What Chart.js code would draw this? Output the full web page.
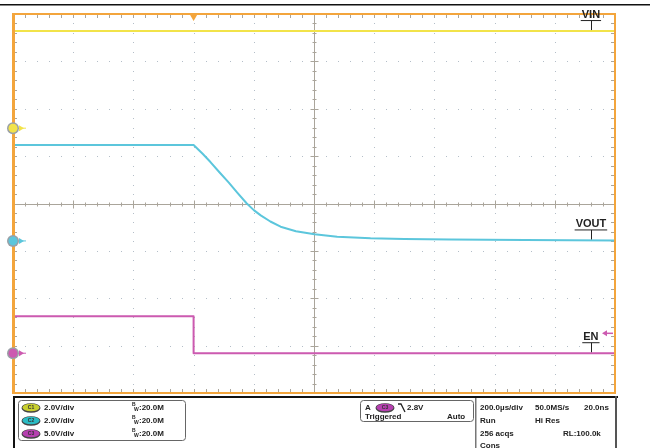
<!DOCTYPE html>
<html>
<head>
<meta charset="utf-8">
<script src="https://cdn.jsdelivr.net/npm/chart.js@4"></script>
<style>
  body { margin: 0; background: #fff; }
  canvas { display: block; }
</style>
</head>
<body>
<canvas id="scope" width="650" height="448"></canvas>
<script>
// time in microseconds from the trigger, voltages in volts
const timePerDiv = 200;
const timeMin = -600;
const timeMax = 1400;

const vinTimes = [-600, 1400];
const vinVolts = [4.1, 4.1];

const voutTimes = [-600, 0, 30, 56, 85, 117, 145, 176, 200, 223, 255, 289, 340, 402, 477, 588, 700, 854, 1100, 1400];
const voutVolts = [4.05, 4.05, 3.68, 3.33, 2.91, 2.46, 2.04, 1.59, 1.3, 1.08, 0.82, 0.6, 0.41, 0.28, 0.18, 0.11, 0.08, 0.06, 0.04, 0.02];

const enTimes = [-600, 0, 0, 1400];
const enVolts = [3.9, 3.9, 0, 0];

const traceLabels = ["VIN", "VOUT", "EN"];
const voltsPerDiv = [2, 2, 5];
const groundDiv = [1.59, -0.79, -3.16];   // ground markers, divisions from centre
const trigArrowVolts = 2.1;

const colors = ["#f2e34a", "#5cc6dc", "#cc5ab0"];
const orange = "#f3a53c";
const FONT = "'Liberation Sans', Arial, sans-serif";

const toPoints = (ts, vs) => ts.map((t, i) => ({ x: t, y: vs[i] }));

const chAxis = (i) => ({
  type: "linear",
  display: false,
  min: (-4 - groundDiv[i]) * voltsPerDiv[i],
  max: (4 - groundDiv[i]) * voltsPerDiv[i],
});

const graticule = {
  id: "graticule",
  beforeDatasetsDraw(chart) {
    const { ctx, chartArea: a, scales } = chart;
    const xs = scales.x, yd = scales.yd;
    ctx.save();
    // dotted grid
    ctx.fillStyle = "#b4bec8";
    for (let i = 1; i < 10; i++) {
      const px = Math.round(xs.getPixelForValue(timeMin + i * timePerDiv));
      for (let j = 1; j < 40; j++) {
        ctx.fillRect(px, Math.round(yd.getPixelForValue(-4 + j * 0.2)), 1, 1);
      }
    }
    for (let j = 1; j < 8; j++) {
      const py = Math.round(yd.getPixelForValue(-4 + j));
      for (let i = 1; i < 50; i++) {
        ctx.fillRect(Math.round(xs.getPixelForValue(timeMin + i * timePerDiv / 5)), py, 1, 1);
      }
    }
    // centre cross with ticks
    const cx = Math.round(xs.getPixelForValue(timeMin + 5 * timePerDiv)) + 0.5;
    const cy = Math.round(yd.getPixelForValue(0)) + 0.5;
    ctx.strokeStyle = "#aaa59b";
    ctx.lineWidth = 1;
    ctx.beginPath();
    ctx.moveTo(a.left, cy); ctx.lineTo(a.right, cy);
    ctx.moveTo(cx, a.top); ctx.lineTo(cx, a.bottom);
    for (let i = 1; i < 50; i++) {
      const px = Math.round(xs.getPixelForValue(timeMin + i * timePerDiv / 5)) + 0.5;
      const len = i % 5 === 0 ? 4 : 2;
      ctx.moveTo(px, cy - len); ctx.lineTo(px, cy + len);
      ctx.moveTo(px, a.top); ctx.lineTo(px, a.top + 4);
      ctx.moveTo(px, a.bottom); ctx.lineTo(px, a.bottom - 4);
    }
    for (let j = 1; j < 40; j++) {
      const py = Math.round(yd.getPixelForValue(-4 + j * 0.2)) + 0.5;
      const len = j % 5 === 0 ? 4 : 2;
      ctx.moveTo(cx - len, py); ctx.lineTo(cx + len, py);
      ctx.moveTo(a.left, py); ctx.lineTo(a.left + 4, py);
      ctx.moveTo(a.right, py); ctx.lineTo(a.right - 4, py);
    }
    ctx.stroke();
    ctx.restore();
  },
  afterDatasetsDraw(chart) {
    const { ctx, chartArea: a, scales } = chart;
    ctx.save();
    // frame
    ctx.strokeStyle = orange;
    ctx.lineWidth = 2;
    ctx.strokeRect(a.left, a.top, a.right - a.left, a.bottom - a.top);
    ctx.fillStyle = orange;
    ctx.fillRect(a.left - 1, a.top, 3, a.bottom - a.top);

    // trigger position marker
    const tx = scales.x.getPixelForValue(0);
    ctx.beginPath();
    ctx.moveTo(tx - 3.5, a.top + 1); ctx.lineTo(tx + 3.5, a.top + 1); ctx.lineTo(tx, a.top + 7);
    ctx.closePath(); ctx.fill();

    // channel ground markers
    ["y1", "y2", "y3"].forEach((id, i) => {
      const py = scales[id].getPixelForValue(0);
      ctx.fillStyle = "#9aa0a6";
      ctx.beginPath(); ctx.arc(a.left, py, 6, 0, Math.PI * 2); ctx.fill();
      ctx.fillStyle = colors[i];
      ctx.beginPath(); ctx.arc(a.left, py, 4.5, 0, Math.PI * 2); ctx.fill();
      ctx.beginPath();
      ctx.moveTo(a.left + 6, py - 3); ctx.lineTo(a.left + 11, py); ctx.lineTo(a.left + 6, py + 3);
      ctx.closePath(); ctx.fill();
      ctx.fillRect(a.left + 9, py - 0.5, 4, 1);
    });

    // trigger level arrow
    const ay = scales.y3.getPixelForValue(trigArrowVolts);
    ctx.fillStyle = colors[2];
    ctx.beginPath();
    ctx.moveTo(a.right - 13, ay); ctx.lineTo(a.right - 8, ay - 3); ctx.lineTo(a.right - 8, ay + 3);
    ctx.closePath(); ctx.fill();
    ctx.fillRect(a.right - 9, ay - 0.75, 7, 1.5);

    // trace labels
    const lx = scales.x.getPixelForValue(1320);
    const levels = [vinVolts[vinVolts.length - 1], voutVolts[voutVolts.length - 1], enVolts[enVolts.length - 1]];
    ctx.fillStyle = "#222";
    ctx.strokeStyle = "#222";
    ctx.lineWidth = 1;
    ctx.font = "bold 11px " + FONT;
    ctx.textAlign = "center";
    ctx.textBaseline = "alphabetic";
    ["y1", "y2", "y3"].forEach((id, i) => {
      const py = scales[id].getPixelForValue(levels[i]);
      const w = ctx.measureText(traceLabels[i]).width;
      const base = py - 13;
      ctx.fillText(traceLabels[i], lx, base);
      ctx.beginPath();
      ctx.moveTo(lx - w / 2 - 1, base + 2.5); ctx.lineTo(lx + w / 2 + 1, base + 2.5);
      ctx.moveTo(Math.round(lx) + 0.5, base + 2.5); ctx.lineTo(Math.round(lx) + 0.5, py - 1);
      ctx.stroke();
    });
    ctx.restore();
  },
  afterDraw(chart) {
    const { ctx } = chart;
    ctx.save();
    // top rule
    ctx.fillStyle = "#111";
    ctx.fillRect(0, 4, 650, 1.5);

    // readout panel frame
    ctx.fillRect(13, 396, 605, 2);
    ctx.fillRect(13, 396, 2, 52);
    ctx.fillStyle = "#555";
    ctx.fillRect(615, 396, 2, 52);

    const roundRect = (x, y, w, h, r, stroke) => {
      ctx.beginPath();
      ctx.roundRect(x, y, w, h, r);
      ctx.strokeStyle = stroke;
      ctx.lineWidth = 1;
      ctx.stroke();
    };
    roundRect(18.5, 400.5, 167, 40, 3, "#666");
    roundRect(360.5, 400.5, 113, 21, 3, "#666");
    ctx.fillStyle = "#777";
    ctx.fillRect(475, 398, 1.5, 50);

    const badge = (x, y, col, txt) => {
      ctx.save();
      ctx.fillStyle = "#444";
      ctx.beginPath(); ctx.ellipse(x, y, 9.5, 4.8, 0, 0, Math.PI * 2); ctx.fill();
      ctx.fillStyle = col;
      ctx.beginPath(); ctx.ellipse(x, y - 0.5, 8.5, 3.8, 0, 0, Math.PI * 2); ctx.fill();
      ctx.fillStyle = "#333";
      ctx.font = "bold 5px " + FONT;
      ctx.textAlign = "center";
      ctx.textBaseline = "middle";
      ctx.fillText(txt, x, y - 0.5);
      ctx.restore();
    };
    const text = (s, x, y, size) => {
      ctx.fillStyle = "#222";
      ctx.font = "bold " + (size || 8) + "px " + FONT;
      ctx.textAlign = "left";
      ctx.textBaseline = "middle";
      ctx.fillText(s, x, y);
    };
    const badgeCols = ["#c8cf2e", "#2bbcc4", "#b640b0"];
    const rows = [408, 421, 434];
    voltsPerDiv.forEach((v, i) => {
      badge(31, rows[i], badgeCols[i], "C" + (i + 1));
      text(v.toFixed(1) + "V/div", 44, rows[i]);
      text("B", 132, rows[i] - 3, 5);
      text("W", 134, rows[i] + 2, 5);
      text(":20.0M", 139, rows[i]);
    });

    // trigger readout
    text("A", 365, 408);
    badge(385, 408, badgeCols[2], "C3");
    ctx.strokeStyle = "#222";
    ctx.lineWidth = 1.3;
    ctx.beginPath();
    ctx.moveTo(398, 404); ctx.lineTo(401, 404); ctx.lineTo(405, 412);
    ctx.stroke();
    text("2.8V", 407, 408);
    text("Triggered", 365, 417);
    text("Auto", 447, 417);

    // acquisition readout
    text("200.0\u00b5s/div", 480, 408);
    text("50.0MS/s", 535, 408);
    text("20.0ns", 584, 408);
    text("Run", 480, 421);
    text("Hi Res", 535, 421);
    text("256 acqs", 480, 434);
    text("RL:100.0k", 563, 434);
    text("Cons", 480, 446);
    ctx.restore();
  },
};

new Chart(document.getElementById("scope"), {
  type: "line",
  data: {
    datasets: [
      { label: traceLabels[0], data: toPoints(vinTimes, vinVolts), yAxisID: "y1", borderColor: colors[0] },
      { label: traceLabels[1], data: toPoints(voutTimes, voutVolts), yAxisID: "y2", borderColor: colors[1] },
      { label: traceLabels[2], data: toPoints(enTimes, enVolts), yAxisID: "y3", borderColor: colors[2] },
    ],
  },
  options: {
    responsive: false,
    animation: false,
    devicePixelRatio: 1,
    layout: { padding: { left: 13, top: 14, right: 35, bottom: 55 } },
    elements: { point: { radius: 0 }, line: { borderWidth: 2, borderJoinStyle: "round" } },
    plugins: { legend: { display: false }, tooltip: { enabled: false } },
    scales: {
      x: { type: "linear", display: false, min: timeMin, max: timeMax },
      yd: { type: "linear", display: false, min: -4, max: 4 },
      y1: chAxis(0),
      y2: chAxis(1),
      y3: chAxis(2),
    },
  },
  plugins: [graticule],
});
</script>
</body>
</html>
